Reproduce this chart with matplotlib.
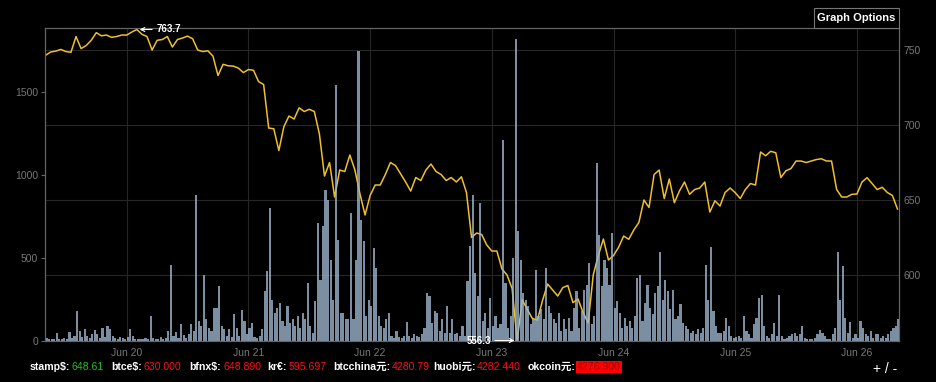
import pandas as pd
import matplotlib
matplotlib.use("Agg")
import matplotlib.pyplot as plt
import matplotlib.dates as mdates
from matplotlib.patches import Rectangle

plt.rcParams['font.family'] = ['Liberation Sans', 'Noto Sans CJK SC', 'DejaVu Sans']

# hourly price (right axis), starting Jun 19 08:00
start = "2014-06-19 08:00"
price = [
    746.5, 748.7, 749.3, 750.4, 749.0, 748.5, 759.0, 751.0, 753.0, 756.5, 761.6, 759.5,
    760.0, 758.5, 759.0, 760.0, 760.0, 762.0, 763.7, 760.5, 759.0, 750.0, 756.5, 757.0,
    759.0, 752.0, 757.0, 758.0, 759.3, 757.5, 750.0, 749.0, 749.5, 746.0, 733.0, 740.5,
    739.5, 739.3, 738.0, 735.0, 737.0, 736.5, 729.0, 727.0, 698.0, 697.5, 683.0, 699.0,
    706.0, 704.0, 711.5, 709.0, 710.5, 709.0, 694.0, 666.0, 675.0, 652.0, 670.0, 669.0,
    680.0, 670.0, 654.0, 640.0, 653.0, 660.0, 660.0, 667.0, 675.0, 673.0, 667.5, 662.0,
    656.0, 665.0, 663.0, 670.0, 674.0, 669.0, 667.0, 663.0, 665.0, 662.0, 665.5, 655.0,
    625.0, 628.0, 627.0, 620.0, 616.0, 616.0, 604.0, 600.0, 591.0, 556.3, 583.5, 577.0,
    571.0, 570.0, 583.0, 594.0, 590.0, 586.0, 591.6, 593.0, 581.6, 584.0, 575.0, 568.0,
    600.0, 613.0, 624.0, 610.0, 613.0, 618.5, 626.0, 623.8, 630.0, 635.0, 650.0, 645.0,
    667.0, 670.0, 651.0, 664.0, 648.2, 656.0, 662.0, 653.8, 657.0, 658.0, 662.0, 642.0,
    649.5, 646.0, 655.0, 658.0, 654.9, 651.0, 657.0, 661.0, 660.0, 682.0, 679.5, 682.5,
    681.5, 665.0, 669.5, 671.0, 676.0, 676.0, 675.0, 676.0, 677.0, 677.5, 676.0, 676.0,
    657.0, 652.0, 652.0, 653.8, 654.0, 662.0, 664.9, 661.0, 657.0, 658.5, 655.0, 653.0,
    644.0,
]

# half-hourly volume (left axis), same start
volume = [
    20, 10, 15, 10, 50, 15, 10, 20, 15, 55,
    20, 30, 180, 60, 25, 70, 30, 20, 40, 65,
    45, 20, 80, 25, 90, 75, 30, 20, 15, 25,
    20, 15, 25, 70, 30, 15, 10, 15, 10, 20,
    15, 150, 20, 10, 15, 25, 10, 20, 60, 460,
    30, 55, 20, 100, 35, 20, 40, 100, 60, 880,
    120, 90, 400, 135, 80, 60, 200, 200, 330, 90,
    70, 30, 70, 25, 165, 80, 30, 185, 120, 40,
    80, 110, 25, 20, 30, 70, 300, 420, 800, 250,
    170, 200, 230, 120, 90, 210, 110, 130, 90, 150,
    80, 170, 130, 350, 90, 50, 240, 710, 370, 690,
    910, 850, 490, 250, 1540, 610, 170, 170, 130, 130,
    770, 130, 490, 1750, 730, 600, 150, 250, 210, 560,
    440, 150, 90, 80, 130, 170, 30, 20, 60, 25,
    20, 30, 115, 30, 20, 40, 30, 25, 40, 80,
    290, 270, 110, 180, 170, 60, 130, 50, 210, 50,
    130, 40, 50, 30, 90, 30, 360, 570, 880, 410,
    270, 830, 120, 170, 80, 260, 90, 150, 80, 100,
    1210, 350, 80, 150, 500, 1820, 660, 490, 290, 250,
    210, 100, 130, 430, 150, 190, 130, 440, 210, 170,
    130, 110, 170, 60, 130, 70, 140, 60, 200, 300,
    80, 180, 310, 340, 470, 100, 150, 1070, 640, 330,
    490, 440, 340, 650, 200, 240, 170, 80, 140, 90,
    120, 80, 150, 380, 400, 120, 230, 340, 200, 160,
    290, 330, 536, 250, 370, 300, 190, 310, 130, 150,
    220, 110, 90, 70, 50, 60, 40, 70, 50, 80,
    460, 250, 566, 180, 90, 50, 50, 60, 140, 90,
    30, 20, 25, 30, 20, 150, 60, 40, 20, 100,
    140, 260, 280, 90, 30, 20, 40, 110, 30, 280,
    30, 15, 20, 30, 40, 50, 30, 40, 90, 20,
    15, 10, 15, 20, 40, 66, 50, 30, 15, 15,
    40, 80, 534, 250, 454, 140, 50, 114, 20, 40,
    20, 120, 80, 40, 30, 60, 20, 40, 40, 20,
    30, 20, 40, 60, 80, 90, 130, 60,
]

exchanges = ["stamp$:", "btce$:", "bfnx$:", "kr€:", "btcchina元:", "huobi元:", "okcoin元:"]
last_prices = ["648.61", "630.000", "648.890", "595.697", "4280.79", "4282.440", "4276.900"]

W, H = 936, 382
fig = plt.figure(figsize=(W / 100, H / 100), dpi=100, facecolor="black")
ax = fig.add_axes([45 / W, 41 / H, 854 / W, 313 / H])
ax.set_facecolor("black")

t_price = pd.date_range(start, periods=len(price), freq="h")
t_vol = pd.date_range(start, periods=len(volume), freq="30min")

# price line on the base axes (drawn under the bars)
ax.plot(t_price, price, color="#f0bf2c", lw=1.1, zorder=2)
ax.set_ylim(556, 764.7)
ax.set_yticks([600, 650, 700, 750])
ax.grid(True, color="#262626", lw=0.8)
ax.xaxis.set_major_locator(mdates.DayLocator())
ax.xaxis.set_major_formatter(mdates.DateFormatter("%b %d"))
ax.set_xlim(pd.Timestamp("2014-06-19 07:53"), pd.Timestamp("2014-06-26 08:18"))

# volume bars on top
ax2 = ax.twinx()
ax2.bar(t_vol, volume, width=0.85 / 48, align="edge", color="#9cb4cc", alpha=0.8, lw=0)
ax2.set_ylim(0, 1886)
ax2.set_yticks([0, 500, 1000, 1500])

ax.yaxis.tick_right()
ax2.yaxis.tick_left()
ax.tick_params(axis="y", colors="#777777", length=0, labelsize=7.5, pad=3)
ax.tick_params(axis="x", colors="#777777", length=0, labelsize=7.5, pad=5)
ax2.tick_params(axis="y", colors="#777777", color="#666666", length=3, labelsize=7.5, pad=2)

for a in (ax, ax2):
    for s in a.spines.values():
        s.set_color("#666666")
        s.set_linewidth(0.8)

# max / min markers
i_max = price.index(max(price))
i_min = price.index(min(price))
ax2.annotate(f"{price[i_max]:.1f}", xy=(mdates.date2num(t_price[i_max]), price[i_max]),
             xycoords=ax.transData, xytext=(14, 0), textcoords="offset points",
             ha="left", va="center", color="white", fontsize=7, fontweight="bold",
             arrowprops=dict(arrowstyle="->", color="white", lw=0.8, shrinkA=1, shrinkB=2))
ax2.annotate(f"{price[i_min]:.1f}", xy=(mdates.date2num(t_price[i_min]), price[i_min]),
             xycoords=ax.transData, xytext=(-19, 0), textcoords="offset points",
             ha="right", va="center", color="white", fontsize=7, fontweight="bold",
             arrowprops=dict(arrowstyle="->", color="white", lw=0.8, shrinkA=1, shrinkB=2))

# "Graph Options" box
fig.add_artist(Rectangle((814 / W, (H - 28) / H), 85 / W, 20 / H, transform=fig.transFigure,
                         facecolor="black", edgecolor="#777777", lw=0.8))
fig.text(856.5 / W, (H - 18) / H, "Graph Options", color="white", fontsize=8,
         fontweight="bold", ha="center", va="center")

# ticker line at the bottom
name_x = [30, 111, 189, 267, 333, 433, 528]
value_x = [72, 144, 223, 289, 392, 477, 577]
value_colors = ["#22c022", "#ff1010", "#ff1010", "#ff1010", "#ff1010", "#ff1010", "#a00000"]
ty = (H - 367) / H
for i, name in enumerate(exchanges):
    fig.text(name_x[i] / W, ty, name, color="white", fontsize=7.6, fontweight="bold",
             ha="left", va="center")
    kw = {}
    if i == len(exchanges) - 1:
        kw["bbox"] = dict(facecolor="#ff0000", edgecolor="none", pad=1)
    fig.text(value_x[i] / W, ty, last_prices[i], color=value_colors[i], fontsize=7.6,
             ha="left", va="center", **kw)

fig.text(873 / W, (H - 369) / H, "+ / -", color="white", fontsize=10, ha="left", va="center")

fig.savefig("out.png", dpi=100, facecolor="black")
